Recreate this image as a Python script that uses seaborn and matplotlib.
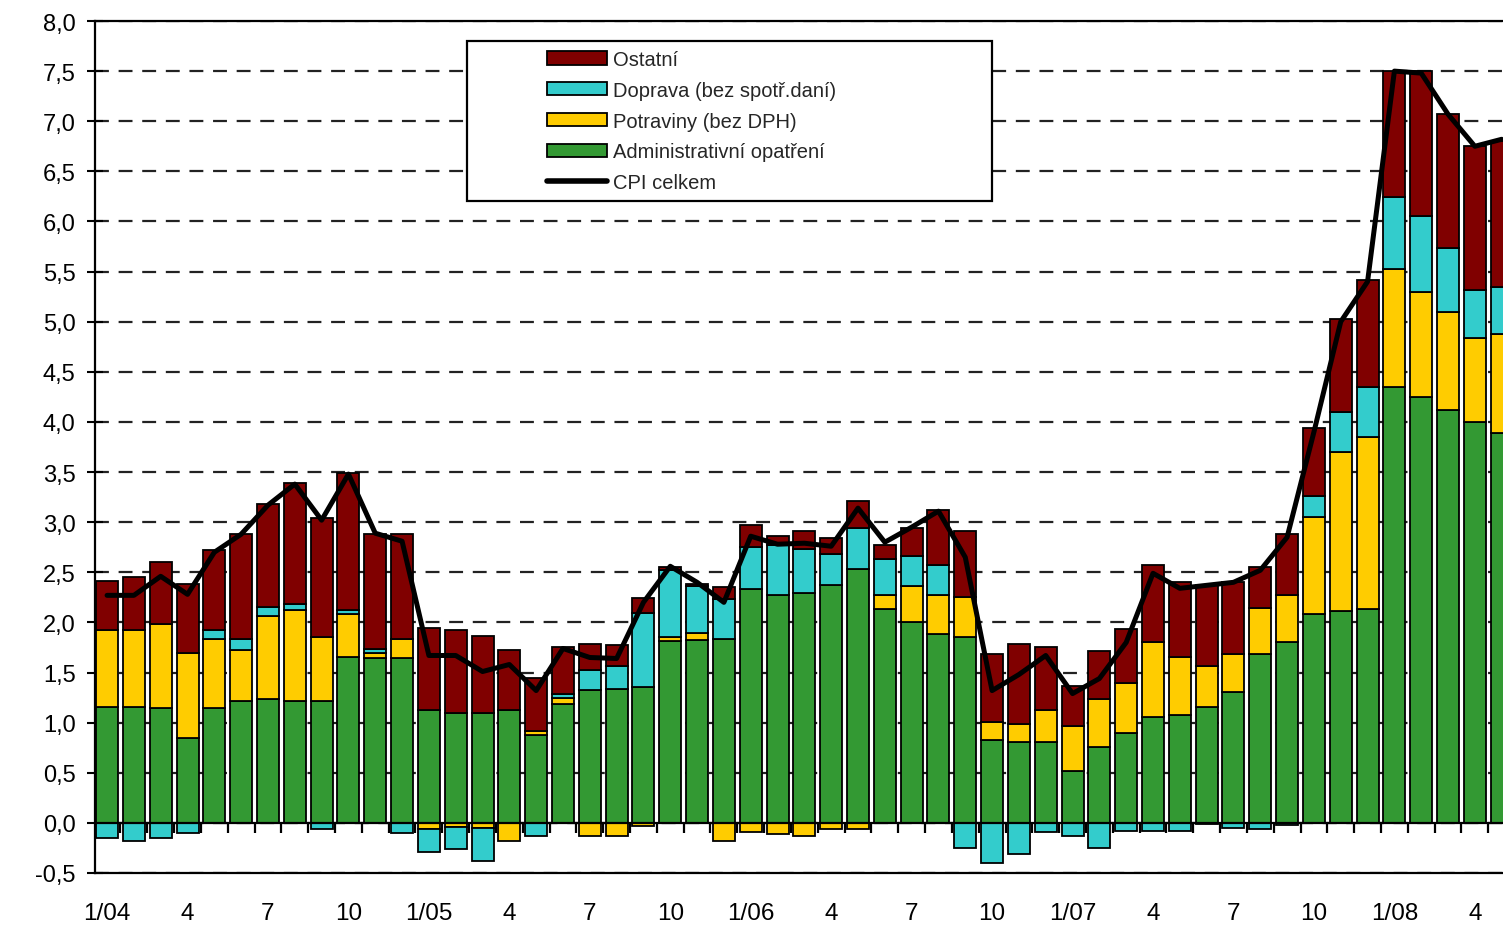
import matplotlib
matplotlib.use('Agg')
import matplotlib.pyplot as plt
import numpy as np
import pandas as pd
import seaborn as sns
from matplotlib.lines import Line2D
from matplotlib.patches import Patch, Rectangle

# monthly categories 1/04 .. 5/08
months = [f'{m}/{y:02d}' for y in range(4, 9) for m in range(1, 13)][:53]

tick_labels = ['1/04', '4', '7', '10', '1/05', '4', '7', '10', '1/06', '4', '7', '10',
               '1/07', '4', '7', '10', '1/08', '4']

admin = [1.16, 1.16, 1.15, 0.85, 1.15, 1.22, 1.24, 1.22, 1.22, 1.65, 1.64, 1.64,
         1.13, 1.10, 1.10, 1.13, 0.88, 1.19, 1.33, 1.34, 1.36, 1.81, 1.82, 1.83,
         2.33, 2.27, 2.29, 2.37, 2.53, 2.13, 2.00, 1.88, 1.85, 0.83, 0.81, 0.81,
         0.52, 0.76, 0.90, 1.06, 1.08, 1.16, 1.31, 1.68, 1.80, 2.08, 2.11, 2.13,
         4.35, 4.25, 4.12, 4.00, 3.89]

food = [0.76, 0.76, 0.83, 0.84, 0.68, 0.50, 0.82, 0.90, 0.63, 0.43, 0.05, 0.19,
        -0.06, -0.04, -0.05, -0.18, 0.04, 0.06, -0.13, -0.13, -0.03, 0.04, 0.07, -0.18,
        -0.09, -0.11, -0.13, -0.06, -0.06, 0.14, 0.36, 0.39, 0.40, 0.18, 0.18, 0.32,
        0.45, 0.48, 0.50, 0.74, 0.57, 0.41, 0.37, 0.46, 0.47, 0.97, 1.59, 1.72,
        1.18, 1.05, 0.98, 0.84, 0.99]

transport = [-0.15, -0.18, -0.15, -0.10, 0.09, 0.11, 0.09, 0.06, -0.06, 0.04, 0.04, -0.10,
             -0.23, -0.22, -0.33, 0.00, -0.13, 0.04, 0.20, 0.23, 0.73, 0.67, 0.47, 0.40,
             0.42, 0.50, 0.44, 0.31, 0.41, 0.36, 0.30, 0.30, -0.25, -0.40, -0.31, -0.09,
             -0.13, -0.25, -0.08, -0.08, -0.08, -0.01, -0.05, -0.06, -0.02, 0.21, 0.40, 0.50,
             0.71, 0.75, 0.64, 0.48, 0.47]

other = [0.49, 0.53, 0.62, 0.69, 0.80, 1.05, 1.03, 1.21, 1.19, 1.37, 1.15, 1.05,
         0.81, 0.82, 0.76, 0.59, 0.53, 0.46, 0.25, 0.20, 0.15, 0.03, 0.02, 0.12,
         0.22, 0.09, 0.18, 0.16, 0.27, 0.14, 0.28, 0.55, 0.66, 0.67, 0.79, 0.62,
         0.40, 0.47, 0.53, 0.77, 0.75, 0.80, 0.72, 0.41, 0.61, 0.68, 0.93, 1.07,
         1.26, 1.45, 1.33, 1.43, 1.45]

cpi = [2.27, 2.27, 2.46, 2.28, 2.70, 2.88, 3.17, 3.38, 3.02, 3.48, 2.89, 2.81,
       1.67, 1.67, 1.51, 1.58, 1.32, 1.74, 1.65, 1.64, 2.20, 2.56, 2.40, 2.20,
       2.86, 2.78, 2.79, 2.76, 3.14, 2.80, 2.95, 3.11, 2.65, 1.32, 1.48, 1.67,
       1.29, 1.44, 1.80, 2.49, 2.34, 2.37, 2.40, 2.52, 2.85, 3.90, 5.00, 5.40,
       7.50, 7.48, 7.07, 6.75, 6.82]

series = [
    ('Administrativní opatření', admin, '#339933'),
    ('Potraviny (bez DPH)', food, '#FFCC00'),
    ('Doprava (bez spotř.daní)', transport, '#33CCCC'),
    ('Ostatní', other, '#800000'),
]

sns.set_style('white')
plt.rcParams['font.family'] = ['Liberation Sans', 'DejaVu Sans']
plt.rcParams['lines.scale_dashes'] = False

fig = plt.figure(figsize=(15.03, 9.28), dpi=100)
ax = fig.add_axes([95 / 1503, 54 / 928, 1408 / 1503, 852 / 928])

pos = np.arange(len(months))
pos_base = np.zeros(len(months))
neg_base = np.zeros(len(months))
for name, vals, color in series:
    vals = np.array(vals)
    bottom = np.where(vals >= 0, pos_base, neg_base)
    df = pd.DataFrame({'pos': pos, 'val': vals})
    sns.barplot(data=df, x='pos', y='val', bottom=bottom, color=color, saturation=1,
                width=0.82, errorbar=None, edgecolor='black', linewidth=1.3,
                zorder=2, ax=ax)
    pos_base = pos_base + np.clip(vals, 0, None)
    neg_base = neg_base + np.clip(vals, None, 0)

sns.lineplot(x=pos, y=cpi, color='black', linewidth=3.6, zorder=4, ax=ax, legend=False)

# axis cosmetics
ax.set_ylim(-0.5, 8)
yt = np.arange(-0.5, 8.01, 0.5)
ax.set_yticks(yt)
ax.set_yticklabels([f'{v:.1f}'.replace('.', ',') for v in yt])
ax.set_xlim(-0.45, 52.05)
ax.set_xticks(pos[::3])
ax.set_xticklabels(tick_labels)
ax.set_xlabel('')
ax.set_ylabel('')

ax.set_axisbelow(True)
ax.yaxis.grid(True, linestyle=(0, (10, 7)), color='#222222', linewidth=1.6)
ax.xaxis.grid(False)

ax.tick_params(axis='y', direction='inout', length=12, width=1.5, labelsize=17, pad=8,
               left=True, colors='black')
ax.tick_params(axis='x', length=0, labelsize=17.5, pad=21, colors='black')
for side in ['left', 'bottom', 'top']:
    ax.spines[side].set_visible(True)
    ax.spines[side].set_color('black')
    ax.spines[side].set_linewidth(1.6)
ax.spines['right'].set_visible(False)

ax.axhline(0, color='black', linewidth=1.6, zorder=3)
ax.vlines(pos[:-1] + 0.5, -0.1, 0, colors='black', linewidth=1.6, zorder=1.5)

# legend box
box = Rectangle((467 / 1503, (928 - 202) / 928), 525 / 1503, 160 / 928,
                transform=fig.transFigure, facecolor='white', edgecolor='black',
                linewidth=1.6, zorder=5, clip_on=False)
ax.add_patch(box)

handles = [Patch(facecolor=c, edgecolor='black', linewidth=1.3) for _, _, c in series[::-1]]
handles.append(Line2D([0], [0], color='black', linewidth=4))
labels = [n for n, _, _ in series[::-1]] + ['CPI celkem']
leg = ax.legend(handles, labels, loc='upper left', bbox_to_anchor=(547 / 1503, (928 - 51) / 928),
                bbox_transform=fig.transFigure, frameon=False, fontsize=14.5,
                handlelength=3.0, handleheight=0.65, handletextpad=0.3,
                labelspacing=0.585, borderpad=0, borderaxespad=0)
leg.set_zorder(6)

fig.savefig('out.png', dpi=100)
